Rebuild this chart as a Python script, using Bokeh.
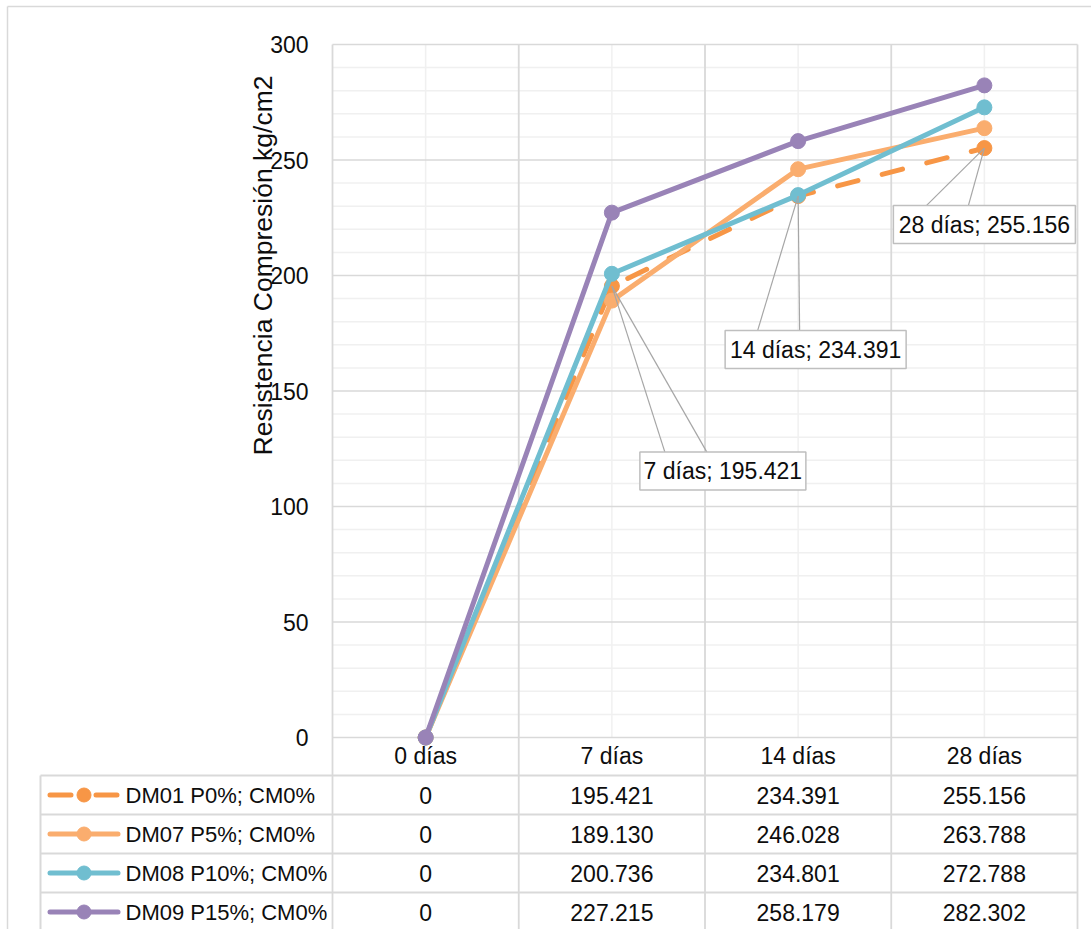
import math

from bokeh.core.properties import value
from bokeh.embed import file_html
from bokeh.models import FixedTicker, Range1d
from bokeh.plotting import figure
from bokeh.resources import INLINE

# ---------------------------------------------------------------- data
categories = ["0 días", "7 días", "14 días", "28 días"]
series_names = ["DM01 P0%; CM0%", "DM07 P5%; CM0%", "DM08 P10%; CM0%", "DM09 P15%; CM0%"]
dm01 = [0, 195.421, 234.391, 255.156]
dm07 = [0, 189.130, 246.028, 263.788]
dm08 = [0, 200.736, 234.801, 272.788]
dm09 = [0, 227.215, 258.179, 282.302]
y_ticks = [0, 50, 100, 150, 200, 250, 300]
y_minor_ticks = list(range(0, 301, 10))
y_title = "Resistencia Compresión kg/cm2"

series_values = [dm01, dm07, dm08, dm09]
series_colors = ["#F79646", "#FAAD6E", "#70BED0", "#9983B7"]
series_dash = ["21 25", "solid", "solid", "solid"]

# ---------------------------------------------------------------- style / geometry (px)
FONT = "Liberation Sans"
FS = "23px"
FS_LEGEND = "22px"
TXT = "#0d0d0d"
GRID = "#d9d9d9"
GRID_MINOR = "#f0f0f0"

W, H = 1091, 929
P_LEFT, P_RIGHT, P_TOP = 332, 1077, 44   # plot area
ZERO_PX = 737                            # pixel row of the value 0
Y_MAX = 300

XS = (P_RIGHT - P_LEFT) / len(categories)   # px per category
YS = (ZERO_PX - P_TOP) / Y_MAX               # px per kg/cm2


def xd(px):
    """canvas x pixel -> data x"""
    return -0.5 + (px - P_LEFT) / XS


def yd(py):
    """canvas y pixel -> data y"""
    return Y_MAX - (py - P_TOP) / YS


idx = list(range(len(categories)))
x_lo, x_hi = -0.5, len(categories) - 0.5
bounds = [i - 0.5 for i in idx] + [x_hi]

# one canvas-sized frame: chart on top, data table underneath
p = figure(width=W, height=H, x_range=Range1d(xd(0), xd(W)), y_range=Range1d(yd(H), yd(0)),
           output_backend="svg", toolbar_location=None, min_border=0)
p.background_fill_color = "white"
p.border_fill_color = "white"
p.outline_line_color = None
p.grid.visible = False

# ---------------------------------------------------------------- axes
xa = p.xaxis[0]
xa.fixed_location = 0
xa.ticker = FixedTicker(ticks=idx, minor_ticks=[])
xa.major_label_overrides = {i: c for i, c in zip(idx, categories)}
xa.axis_line_color = None
xa.major_tick_line_color = None
xa.minor_tick_line_color = None
xa.major_tick_out = 0
xa.major_tick_in = 0
xa.major_label_standoff = 5
xa.major_label_text_font = FONT
xa.major_label_text_font_size = FS
xa.major_label_text_color = TXT

ya = p.yaxis[0]
ya.fixed_location = x_lo
ya.ticker = FixedTicker(ticks=y_ticks, minor_ticks=[])
ya.axis_line_color = None
ya.major_tick_line_color = None
ya.minor_tick_line_color = None
ya.major_tick_out = 0
ya.major_tick_in = 0
ya.major_label_standoff = 24
ya.major_label_text_font = FONT
ya.major_label_text_font_size = FS
ya.major_label_text_color = TXT

# ---------------------------------------------------------------- gridlines of the plot area
minor_y = [v for v in y_minor_ticks if v not in y_ticks]
p.segment(x0=[x_lo] * len(minor_y), y0=minor_y, x1=[x_hi] * len(minor_y), y1=minor_y,
          line_color=GRID_MINOR, line_width=1.5)
p.segment(x0=idx, y0=[0] * len(idx), x1=idx, y1=[Y_MAX] * len(idx),
          line_color=GRID_MINOR, line_width=1.5)
p.segment(x0=[x_lo] * len(y_ticks), y0=y_ticks, x1=[x_hi] * len(y_ticks), y1=y_ticks,
          line_color=GRID, line_width=1.5)
p.segment(x0=bounds, y0=[Y_MAX] * len(bounds), x1=bounds, y1=[yd(H + 5)] * len(bounds),
          line_color=GRID, line_width=1.8)

# chart border (left and top edges)
p.segment(x0=[xd(7), xd(7)], y0=[yd(6), yd(6)], x1=[xd(7), xd(W + 5)], y1=[yd(H + 5), yd(6)],
          line_color=GRID, line_width=1.5)

p.text(x=[xd(262)], y=[yd(265)], text=[y_title], angle=math.pi / 2,
       text_font=value(FONT), text_font_size=value("26.5px"), text_color=TXT,
       text_align="center", text_baseline="middle")

# ---------------------------------------------------------------- series
for vals, col, dash in zip(series_values, series_colors, series_dash):
    p.line(idx, vals, line_color=col, line_width=5, line_dash=dash,
           line_cap="round", line_join="round")
    p.scatter(idx, vals, size=15, fill_color=col, line_color=col)

# data labels of the first series (callout boxes)
lab_idx = [1, 2, 3]
lab_dx = [111, 17.5, 0]         # box centre offset from the point, px
lab_dy = [185, 153.5, 76.5]     # downward offset, px
lab_w = [166, 181, 182]
lab_h = 38
wedge = (-58, -16)              # base of the leader wedge on the box top, px from centre

for i, dx, dy, bw in zip(lab_idx, lab_dx, lab_dy, lab_w):
    v = dm01[i]
    cx = i + dx / XS
    cy = v - dy / YS
    top = cy + (lab_h / 2) / YS
    p.segment(x0=[i, i], y0=[v, v],
              x1=[cx + wedge[0] / XS, cx + wedge[1] / XS], y1=[top, top],
              line_color="#a6a6a6", line_width=1.2)
    p.rect(x=[cx], y=[cy], width=[bw], height=[lab_h], width_units="screen",
           height_units="screen", fill_color="white", line_color="#bfbfbf", line_width=1.5)
    p.text(x=[cx], y=[cy], text=[f"{categories[i]}; {v:.3f}"],
           text_font=value(FONT), text_font_size=value(FS), text_color=TXT,
           text_align="center", text_baseline="middle")

# ---------------------------------------------------------------- data table
ROW_TOP = 775
ROW_H = 39
T_LEFT = 40
n_rows = len(series_names)

row_px = [ROW_TOP + ROW_H * k for k in range(n_rows + 1)]
row_y = [yd(v) for v in row_px]
p.segment(x0=[xd(T_LEFT)] * len(row_y), y0=row_y, x1=[x_hi] * len(row_y), y1=row_y,
          line_color=GRID, line_width=2)
p.segment(x0=[xd(T_LEFT)], y0=[yd(ROW_TOP)], x1=[xd(T_LEFT)], y1=[yd(H + 5)],
          line_color=GRID, line_width=2)

for r, (name, vals, col, dash) in enumerate(zip(series_names, series_values,
                                                   series_colors, series_dash)):
    cy = yd(ROW_TOP + ROW_H * r + ROW_H / 2)
    p.line([xd(49.5), xd(117.5)], [cy, cy], line_color=col, line_width=5,
           line_dash=dash, line_cap="round")
    p.scatter([xd(83.5)], [cy], size=14, fill_color=col, line_color=col)
    p.text(x=[xd(125)], y=[cy], text=[name], text_font=value(FONT),
           text_font_size=value(FS_LEGEND), text_color=TXT, text_align="left",
           text_baseline="middle")
    p.text(x=idx, y=[cy] * len(idx),
           text=["0" if v == 0 else f"{v:.3f}" for v in vals],
           text_font=value(FONT), text_font_size=value(FS), text_color=TXT,
           text_align="center", text_baseline="middle")

open("out.html", "w").write(file_html(p, INLINE))
